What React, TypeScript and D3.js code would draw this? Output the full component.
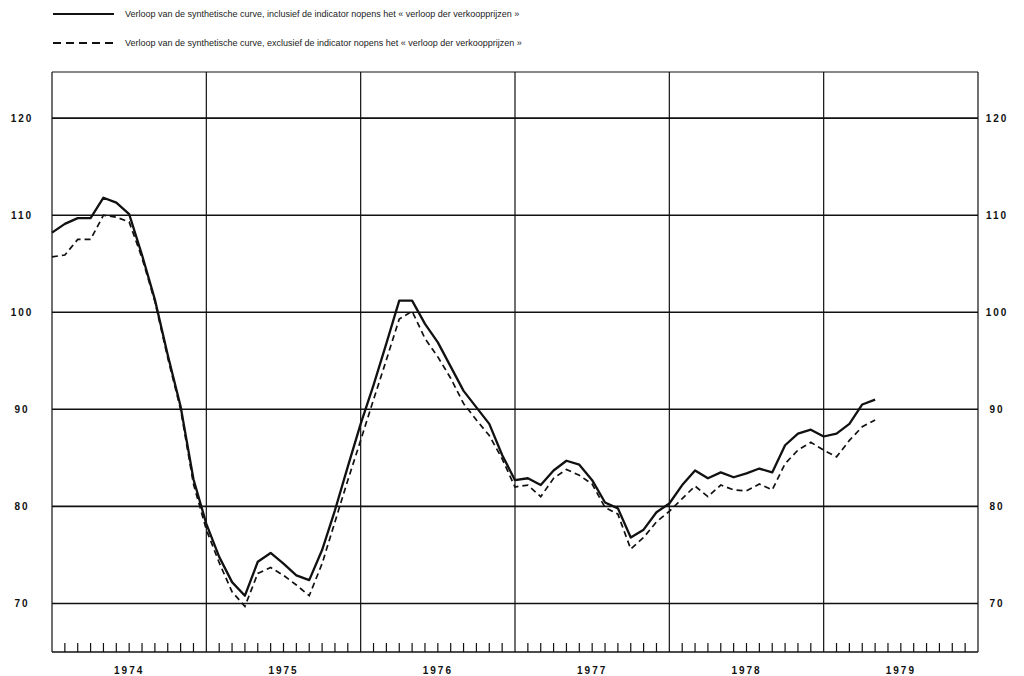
import React, { useEffect, useRef } from "react";
import * as d3 from "d3";

// monthly values, Jan 1974 .. May 1979
const inclusive: number[] = [
  108.2, 109.1, 109.7, 109.7, 111.8, 111.3, 110.1, 105.9, 101.3, 95.6, 90.3, 82.8,
  78.2, 74.8, 72.2, 70.8, 74.3, 75.2, 74.1, 72.9, 72.4, 75.5, 79.6, 84.1,
  88.5, 92.5, 96.8, 101.2, 101.2, 98.8, 96.9, 94.4, 91.9, 90.2, 88.5, 85.3,
  82.7, 82.9, 82.2, 83.7, 84.7, 84.3, 82.7, 80.4, 79.8, 76.8, 77.6, 79.4,
  80.3, 82.2, 83.7, 82.9, 83.5, 83.0, 83.4, 83.9, 83.5, 86.3, 87.5, 87.9,
  87.2, 87.5, 88.5, 90.5, 91.0,
];

const exclusive: number[] = [
  105.7, 105.9, 107.5, 107.5, 110.0, 109.8, 109.3, 105.6, 101.1, 95.3, 90.0, 82.3,
  77.6, 74.2, 71.2, 69.7, 73.1, 73.7, 72.9, 71.9, 70.8, 74.1, 78.4, 82.7,
  86.8, 91.0, 95.1, 99.3, 100.1, 97.3, 95.4, 93.2, 90.6, 88.9, 87.3, 84.9,
  82.0, 82.2, 81.0, 82.9, 83.8, 83.2, 82.3, 79.9, 79.2, 75.6, 76.8, 78.4,
  79.5, 80.8, 82.1, 81.0, 82.2, 81.7, 81.6, 82.3, 81.7, 84.4, 85.8, 86.6,
  85.8, 85.1, 86.8, 88.2, 88.9,
];

const years = [1974, 1975, 1976, 1977, 1978, 1979];
const yTicks = [70, 80, 90, 100, 110, 120];

const legendLabels = [
  "Verloop van de synthetische curve, inclusief de indicator nopens het « verloop der verkoopprijzen »",
  "Verloop van de synthetische curve, exclusief de indicator nopens het « verloop der verkoopprijzen »",
];

const App: React.FC = () => {
  const svgRef = useRef<SVGSVGElement | null>(null);

  useEffect(() => {
    const svg = d3.select(svgRef.current);
    svg.selectAll("*").remove();

    const width = 1024;
    const height = 676;
    const margin = { top: 72, right: 46, bottom: 24, left: 52 };
    const font = "'Liberation Sans', Arial, sans-serif";

    const x = d3
      .scaleLinear()
      .domain([0, years.length * 12])
      .range([margin.left, width - margin.right]);

    const y = d3
      .scaleLinear()
      .domain([65, 124.75])
      .range([height - margin.bottom, margin.top]);

    const x0 = x.range()[0];
    const x1 = x.range()[1];
    const yb = y.range()[0];
    const yt = y.range()[1];

    // horizontal grid
    svg
      .selectAll(".hgrid")
      .data(yTicks)
      .enter()
      .append("line")
      .attr("x1", x0)
      .attr("x2", x1)
      .attr("y1", (d) => y(d))
      .attr("y2", (d) => y(d))
      .attr("stroke", "#111")
      .attr("stroke-width", 1.6);

    // year dividers + frame
    const dividers = d3.range(0, years.length * 12 + 1, 12);
    svg
      .selectAll(".vgrid")
      .data(dividers)
      .enter()
      .append("line")
      .attr("x1", (d) => x(d))
      .attr("x2", (d) => x(d))
      .attr("y1", yt)
      .attr("y2", yb)
      .attr("stroke", "#111")
      .attr("stroke-width", 1.2);

    svg.append("line").attr("x1", x0).attr("x2", x1).attr("y1", yt).attr("y2", yt)
      .attr("stroke", "#111").attr("stroke-width", 1.2);
    svg.append("line").attr("x1", x0).attr("x2", x1).attr("y1", yb).attr("y2", yb)
      .attr("stroke", "#111").attr("stroke-width", 1.6);

    // monthly ticks on the bottom
    svg
      .selectAll(".mtick")
      .data(d3.range(1, years.length * 12).filter((m) => m % 12 !== 0))
      .enter()
      .append("line")
      .attr("x1", (d) => x(d))
      .attr("x2", (d) => x(d))
      .attr("y1", yb)
      .attr("y2", yb - 9)
      .attr("stroke", "#111")
      .attr("stroke-width", 1.2);

    // year labels
    svg
      .selectAll(".year")
      .data(years)
      .enter()
      .append("text")
      .attr("x", (d, i) => x(i * 12 + 6))
      .attr("y", yb + 22)
      .attr("text-anchor", "middle")
      .style("font-family", font)
      .style("font-size", "10px")
      .style("font-weight", "bold")
      .style("letter-spacing", "2px")
      .attr("fill", "#111")
      .text((d) => String(d));

    // y labels both sides
    [22, 997].forEach((lx) => {
      svg
        .selectAll(null)
        .data(yTicks)
        .enter()
        .append("text")
        .attr("x", lx)
        .attr("y", (d) => y(d))
        .attr("dy", "0.35em")
        .attr("text-anchor", "middle")
        .style("font-family", font)
        .style("font-size", "10px")
        .style("font-weight", "bold")
        .style("letter-spacing", "2px")
        .attr("fill", "#111")
        .text((d) => String(d));
    });

    const line = d3
      .line<number>()
      .x((d, i) => x(i))
      .y((d) => y(d));

    svg.append("path")
      .attr("d", line(exclusive)!)
      .attr("fill", "none")
      .attr("stroke", "#111")
      .attr("stroke-width", 1.7)
      .attr("stroke-dasharray", "6,4");

    svg.append("path")
      .attr("d", line(inclusive)!)
      .attr("fill", "none")
      .attr("stroke", "#111")
      .attr("stroke-width", 2.3)
      .attr("stroke-linejoin", "round");

    // legend
    const legendY = [14, 43];
    legendLabels.forEach((label, i) => {
      svg.append("line")
        .attr("x1", 53)
        .attr("x2", 114)
        .attr("y1", legendY[i])
        .attr("y2", legendY[i])
        .attr("stroke", "#111")
        .attr("stroke-width", i === 0 ? 2.2 : 2)
        .attr("stroke-dasharray", i === 0 ? null : "8,5");
      svg.append("text")
        .attr("x", 125)
        .attr("y", legendY[i])
        .attr("dy", "0.35em")
        .style("font-family", font)
        .style("font-size", "9px")
        .attr("fill", "#222")
        .text(label);
    });
  }, []);

  return (
    <div style={{ position: "absolute", left: 0, top: 0, width: 1024, height: 676, background: "white" }}>
      <svg ref={svgRef} width={1024} height={676} style={{ display: "block" }} />
    </div>
  );
};

export default App;
